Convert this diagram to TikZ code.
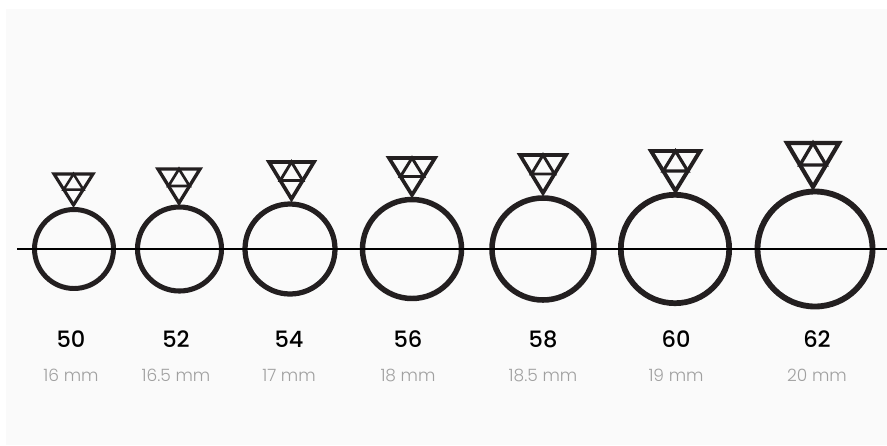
\documentclass[tikz,border=0pt]{standalone}
\usepackage{fontspec}
\setmainfont{Poppins}
\newfontfamily\fuentetalla{Poppins}[UprightFont=* Medium]
\newfontfamily\fuentemm{Poppins}[UprightFont=* Light]
\usetikzlibrary{calc}
\definecolor{tinta}{HTML}{231F20}
\definecolor{fondo}{HTML}{FAFAFA}
\definecolor{gris}{HTML}{A0A0A0}

\begin{document}
\begin{tikzpicture}[x=1pt, y=-1pt,
            anillo/.style={circle, draw=tinta, inner sep=0pt, outer sep=0pt},
            gema/.style={draw=tinta, line join=miter},
            talla/.style={font=\fuentetalla\fontsize{22.5}{26}\selectfont, text=black},
            medida/.style={font=\fuentemm\fontsize{17}{20}\selectfont, text=gris}]

            \useasboundingbox (0,0) rectangle (887,445);
            \fill[fondo] (6,9) rectangle (887,445);

            % centro, radio, gema (izq, der, arriba, punta), texto
            \foreach \num/\cx/\rad/\gl/\gr/\gt/\gb/\tx/\mm in {
                50/74/39.5/54/93/174/205/71/16 mm,
                52/179.5/42/158/200/169/203/176/16.5 mm,
                54/290/45/269/314/162/199/289/17 mm,
                56/412/49.5/389/435/158/195/408/18 mm,
                58/543/51/520/566/155/193/543/18.5 mm,
                60/675/54.2/651/700/151/191/676/19 mm,
                62/815/57.5/787/839/143/187/817/20 mm} {
                \pgfmathsetmacro{\gruesoA}{3+0.05*\rad}
                \pgfmathsetmacro{\gruesoG}{0.08*(\gr-\gl)}
                \node[anillo, line width=\gruesoA pt, minimum size=2*\rad*1pt] (r\num) at (\cx,249) {};
                \coordinate (a\num) at (\gl,\gt);
                \coordinate (b\num) at (\gr,\gt);
                \coordinate (c\num) at ({(\gl+\gr)/2},\gb);
                \draw[gema, line width=\gruesoG pt] (a\num) -- (b\num) -- (c\num) -- cycle;
                \draw[gema, line width=0.8*\gruesoG pt] ($(a\num)!0.5!(b\num)$) -- ($(a\num)!0.5!(c\num)$) -- ($(b\num)!0.5!(c\num)$) -- cycle;
                \node[talla] (t\num) at (\tx,339) {\num};
                \node[medida] (m\num) at (\tx,375) {\mm};
            }

            \coordinate (ini) at (17,249);
            \coordinate (fin) at (887,249);
            \draw[black, line width=1.3pt] (ini) -- (fin);
\end{tikzpicture}
\end{document}
